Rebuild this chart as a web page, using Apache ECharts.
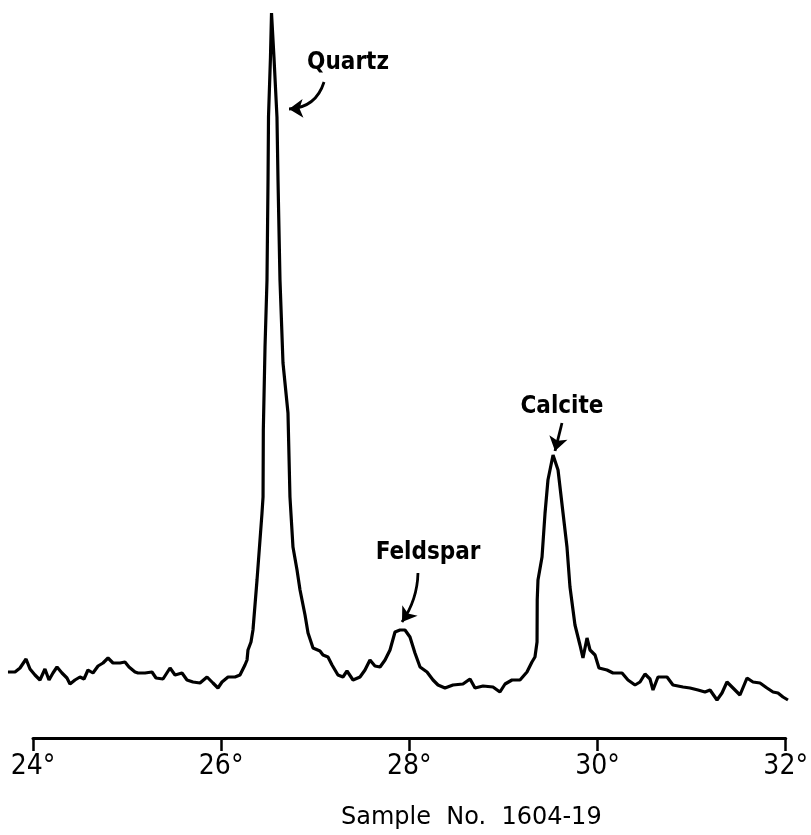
<!DOCTYPE html>
<html>
<head>
<meta charset="utf-8">
<script src="https://cdn.jsdelivr.net/npm/echarts@6/dist/echarts.min.js"></script>
<style>
html,body{margin:0;padding:0;background:#fff;}
#chart{width:811px;height:835px;}
</style>
</head>
<body>
<div id="chart"></div>
<script>
// 2-theta angle (degrees) of the recorded trace
const twoTheta = [
  23.734, 23.809, 23.862, 23.926, 23.968, 24.021, 24.074, 24.127, 24.170, 24.212,
  24.255, 24.308, 24.361, 24.393, 24.446, 24.499, 24.542, 24.584, 24.637, 24.691,
  24.744, 24.797, 24.850, 24.924, 24.977, 25.020, 25.084, 25.116, 25.190, 25.264,
  25.307, 25.381, 25.456, 25.509, 25.583, 25.636, 25.700, 25.774, 25.849, 25.912,
  25.965, 26.008, 26.072, 26.146, 26.199, 26.252, 26.274, 26.284, 26.316, 26.337,
  26.380, 26.433, 26.444, 26.447, 26.465, 26.486, 26.497, 26.502, 26.523, 26.534,
  26.560, 26.592, 26.603, 26.624, 26.656, 26.709, 26.730, 26.762, 26.805, 26.837,
  26.890, 26.922, 26.975, 27.049, 27.081, 27.134, 27.177, 27.240, 27.293, 27.336,
  27.400, 27.474, 27.527, 27.580, 27.633, 27.687, 27.740, 27.793, 27.846, 27.899,
  27.952, 28.005, 28.058, 28.112, 28.186, 28.250, 28.303, 28.377, 28.462, 28.568,
  28.643, 28.696, 28.781, 28.887, 28.961, 29.015, 29.089, 29.174, 29.248, 29.301,
  29.333, 29.355, 29.357, 29.365, 29.408, 29.440, 29.471, 29.525, 29.578, 29.631,
  29.673, 29.705, 29.758, 29.811, 29.843, 29.886, 29.918, 29.971, 30.013, 30.098,
  30.162, 30.258, 30.321, 30.396, 30.449, 30.502, 30.555, 30.587, 30.640, 30.736,
  30.799, 30.906, 30.980, 31.065, 31.139, 31.193, 31.267, 31.320, 31.373, 31.437,
  31.511, 31.586, 31.649, 31.724, 31.798, 31.862, 31.915, 31.968, 32.021
];
// detector intensity (arbitrary units)
const intensity = [
  73, 73, 77, 86, 76, 70, 65, 76, 65, 72,
  78, 72, 67, 61, 65, 68, 66, 75, 72, 79,
  82, 87, 82, 82, 83, 78, 73, 72, 72, 73,
  67, 66, 77, 70, 72, 65, 63, 62, 68, 62,
  57, 63, 68, 68, 70, 80, 85, 95, 103, 115,
  165, 232, 248, 315, 398, 465, 565, 628, 688, 732,
  688, 628, 565, 465, 382, 332, 248, 198, 175, 155,
  130, 112, 97, 94, 90, 88, 80, 70, 68, 74,
  65, 68, 75, 85, 79, 78, 85, 95, 113, 115,
  115, 108, 92, 78, 73, 65, 60, 57, 60, 61,
  66, 57, 59, 58, 53, 61, 65, 65, 73, 83,
  88, 103, 145, 165, 188, 232, 265, 290, 275, 232,
  198, 158, 120, 100, 87, 107, 95, 90, 77, 75,
  72, 72, 65, 60, 63, 71, 66, 55, 68, 68,
  60, 58, 57, 55, 53, 55, 45, 52, 63, 57,
  50, 67, 63, 62, 57, 53, 52, 48, 45
];
// peak annotations: label position and arrow (from -> to)
const peakNames = ['Quartz', 'Feldspar', 'Calcite'];
const labelPos = [[27.347, 682], [28.197, 192], [29.620, 338]];
const arrowFrom = [[27.092, 663], [28.090, 172], [29.620, 322]];
const arrowTo = [[26.720, 636], [27.920, 123], [29.546, 294]];
const arrowCurve = [0.35, 0.15, 0.0];
const tickMin = 24, tickMax = 32, tickStep = 2;
const axisTitle = 'Sample  No.  1604-19';

// layout: visible axis spans pixels 33..786; the trace extends a bit beyond it
const W = 811, AX_L = 33, AX_R = 786;
const pxPerUnit = (AX_R - AX_L) / (tickMax - tickMin);
const fullMin = tickMin - AX_L / pxPerUnit;
const fullMax = tickMax + (W - AX_R) / pxPerUnit;

const seriesData = twoTheta.map((x, i) => [x, intensity[i]]);
const chart = echarts.init(document.getElementById('chart'), null, {renderer: 'canvas'});
const FONT = '"Liberation Sans Narrow", "DejaVu Sans Condensed", "Liberation Sans", sans-serif';

chart.setOption({
  animation: false,
  backgroundColor: '#fff',
  grid: [
    {left: 0, right: 0, top: 10, bottom: 90, containLabel: false},
    {left: AX_L, right: W - AX_R, top: 10, bottom: 90, containLabel: false}
  ],
  xAxis: [
    {type: 'value', gridIndex: 0, min: fullMin, max: fullMax, show: false},
    {
      type: 'value', gridIndex: 1, min: tickMin, max: tickMax, interval: tickStep,
      splitLine: {show: false},
      axisLine: {show: true, lineStyle: {color: '#000', width: 3}},
      axisTick: {show: true, inside: false, length: 13, lineStyle: {color: '#000', width: 2.5}},
      axisLabel: {formatter: '{value}°', color: '#000', fontSize: 28, fontFamily: FONT, margin: 15},
      name: axisTitle, nameLocation: 'middle', nameGap: 68,
      nameTextStyle: {color: '#000', fontSize: 24, fontFamily: 'DejaVu Sans', padding: [0, 0, 0, 124]}
    }
  ],
  yAxis: [
    {type: 'value', gridIndex: 0, min: 0, max: 735, show: false},
    {type: 'value', gridIndex: 1, min: 0, max: 735, show: false}
  ],
  series: [{
    type: 'line',
    xAxisIndex: 0, yAxisIndex: 0,
    data: seriesData,
    showSymbol: false,
    lineStyle: {color: '#000', width: 3.2},
    markPoint: {
      symbol: 'circle', symbolSize: 1,
      itemStyle: {color: 'rgba(0,0,0,0)'},
      label: {show: true, position: 'inside', formatter: '{b}', color: '#000',
              fontSize: 24, fontWeight: 'bold', fontFamily: FONT},
      data: peakNames.map((n, i) => ({name: n, coord: labelPos[i]}))
    }
  }, {
    type: 'lines',
    coordinateSystem: 'cartesian2d',
    xAxisIndex: 0, yAxisIndex: 0,
    symbol: ['none', 'arrow'],
    symbolSize: [11, 14],
    lineStyle: {color: '#000', width: 2.8, opacity: 1},
    data: peakNames.map((n, i) => ({
      coords: [arrowFrom[i], arrowTo[i]],
      lineStyle: {curveness: arrowCurve[i]}
    }))
  }]
});
</script>
</body>
</html>
